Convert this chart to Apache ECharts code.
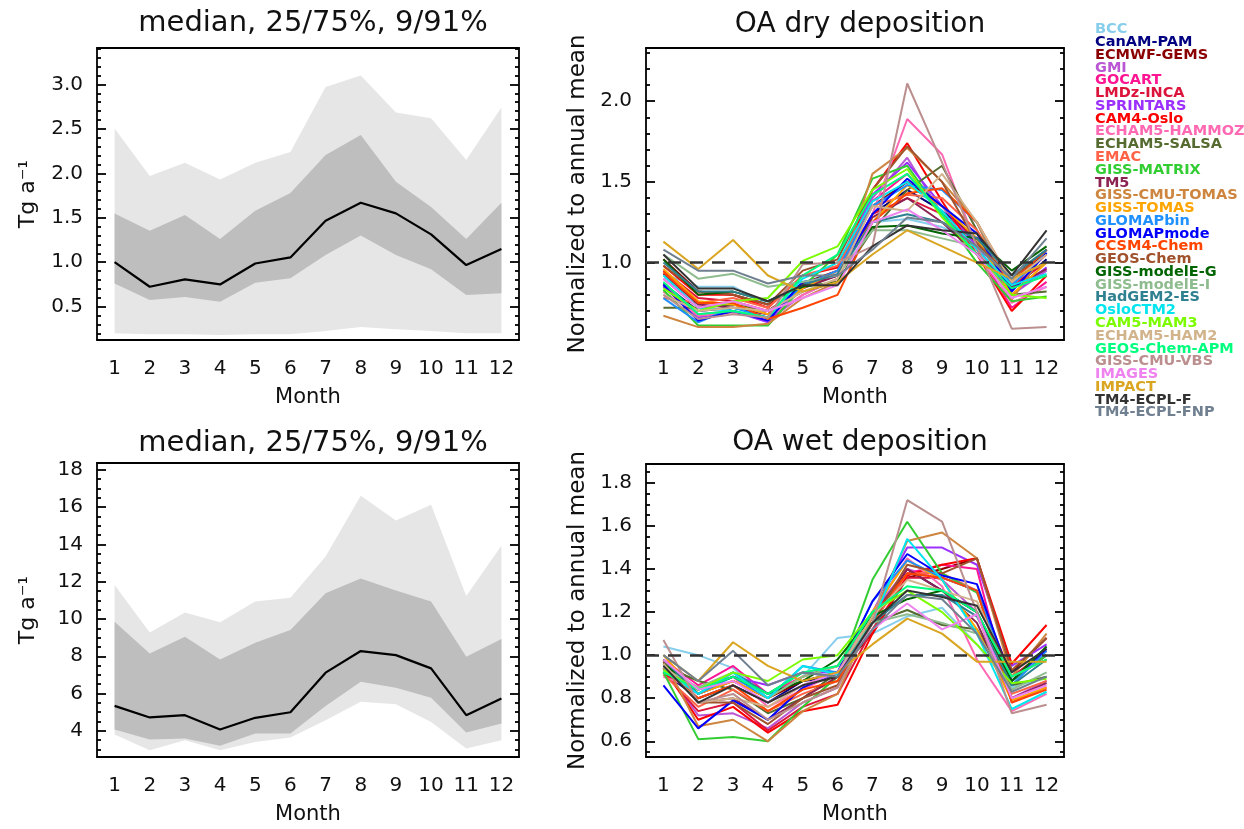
<!DOCTYPE html>
<html><head><meta charset="utf-8">
<script src="https://cdn.jsdelivr.net/npm/echarts@6/dist/echarts.min.js"></script>
<style>html,body{margin:0;padding:0;background:#fff}#c{width:1244px;height:829px}</style>
</head><body><div id="c"></div>
<script>
// ---------- categories ----------
const months = ['1','2','3','4','5','6','7','8','9','10','11','12'];
const models = ['BCC','CanAM-PAM','ECMWF-GEMS','GMI','GOCART','LMDz-INCA','SPRINTARS','CAM4-Oslo',
  'ECHAM5-HAMMOZ','ECHAM5-SALSA','EMAC','GISS-MATRIX','TM5','GISS-CMU-TOMAS','GISS-TOMAS','GLOMAPbin',
  'GLOMAPmode','CCSM4-Chem','GEOS-Chem','GISS-modelE-G','GISS-modelE-I','HadGEM2-ES','OsloCTM2',
  'CAM5-MAM3','ECHAM5-HAM2','GEOS-Chem-APM','GISS-CMU-VBS','IMAGES','IMPACT','TM4-ECPL-F','TM4-ECPL-FNP'];
const modelColors = ['#87CEEB','#000080','#8B0000','#BA55D3','#FF1493','#DC143C','#9B30FF','#FF0000',
  '#FF69B4','#556B2F','#FF6347','#32CD32','#8B2252','#CD853F','#FFA500','#1E90FF',
  '#0000FF','#FF4500','#A0522D','#006400','#8FBC8F','#2F8090','#00E5EE',
  '#7CFC00','#D2B48C','#00FF7F','#BC8F8F','#EE82EE','#DAA520','#333333','#708090'];

// ---------- dry deposition, Tg a-1 (percentiles) ----------
const dryP9   = [0.20,0.19,0.19,0.18,0.19,0.19,0.225,0.27,0.245,0.225,0.20,0.20];
const dryP25  = [0.76,0.574,0.61,0.555,0.77,0.82,1.08,1.30,1.08,0.92,0.63,0.65];
const dryMed  = [1.00,0.724,0.807,0.75,0.986,1.054,1.466,1.669,1.549,1.313,0.968,1.148];
const dryP75  = [1.549,1.354,1.53,1.26,1.58,1.78,2.205,2.43,1.905,1.62,1.26,1.67];
const dryP91  = [2.505,1.97,2.12,1.93,2.12,2.24,2.97,3.10,2.685,2.62,2.15,2.74];
// ---------- wet deposition, Tg a-1 (percentiles) ----------
const wetP9   = [3.80,2.96,3.50,2.96,3.41,3.64,4.57,5.56,5.43,4.48,3.05,3.50];
const wetP25  = [4.07,3.54,3.59,3.20,3.86,3.86,5.34,6.63,6.31,5.77,3.91,4.39];
const wetMed  = [5.34,4.72,4.84,4.07,4.70,5.00,7.12,8.28,8.06,7.35,4.84,5.74];
const wetP75  = [9.85,8.15,9.05,7.83,8.73,9.41,11.38,12.17,11.52,10.93,7.97,8.92];
const wetP91  = [11.82,9.28,10.34,9.82,10.93,11.14,13.35,16.60,15.28,16.12,11.23,13.92];

// ---------- dry deposition normalized to annual mean ----------
const dryBCC          = [0.93,0.85,0.85,0.74,0.86,0.92,1.25,1.27,1.22,1.12,0.84,0.95];
const dryCanAMPAM     = [0.87,0.70,0.72,0.68,0.86,0.92,1.30,1.45,1.32,1.15,0.83,1.02];
const dryECMWFGEMS    = [1.02,0.82,0.80,0.74,0.87,0.95,1.35,1.50,1.35,1.12,0.85,1.08];
const dryGMI          = [0.86,0.68,0.70,0.64,0.80,0.90,1.40,1.65,1.30,1.05,0.80,0.95];
const dryGOCART       = [0.90,0.72,0.74,0.68,0.84,0.95,1.38,1.55,1.30,1.08,0.72,0.88];
const dryLMDzINCA     = [0.95,0.78,0.76,0.70,0.85,0.92,1.30,1.40,1.30,1.15,0.86,1.00];
const drySPRINTARS    = [0.85,0.66,0.70,0.63,0.85,0.95,1.42,1.62,1.35,1.10,0.80,0.97];
const dryCAM4Oslo     = [0.98,0.80,0.80,0.72,0.92,0.97,1.45,1.74,1.38,1.05,0.70,0.92];
const dryECHAM5HAMMOZ = [0.82,0.67,0.69,0.66,0.80,0.90,1.30,1.89,1.67,1.10,0.75,0.85];
const dryECHAM5SALSA  = [0.72,0.72,0.74,0.70,0.82,0.88,1.20,1.45,1.60,1.20,0.80,0.82];
const dryEMAC         = [0.78,0.75,0.78,0.72,0.92,0.98,1.35,1.42,1.40,1.20,0.86,1.05];
const dryGISSMATRIX   = [0.83,0.61,0.61,0.61,0.85,1.05,1.52,1.60,1.30,1.00,0.76,0.79];
const dryTM5          = [0.93,0.74,0.72,0.70,0.84,0.92,1.28,1.40,1.25,1.05,0.85,0.96];
const dryGISSCMUTOMAS = [0.67,0.60,0.60,0.62,0.78,0.88,1.55,1.71,1.50,1.25,0.77,1.08];
const dryGISSTOMAS    = [0.96,0.76,0.74,0.68,0.84,0.95,1.25,1.48,1.35,1.15,0.80,1.00];
const dryGLOMAPbin    = [0.78,0.63,0.72,0.66,0.86,0.95,1.35,1.48,1.45,1.25,0.86,1.06];
const dryGLOMAPmode   = [0.86,0.64,0.70,0.64,0.88,0.92,1.30,1.52,1.35,1.18,0.82,1.06];
const dryCCSM4Chem    = [0.94,0.75,0.75,0.65,0.72,0.80,1.25,1.43,1.46,1.25,0.88,1.08];
const dryGEOSChem     = [0.98,0.82,0.80,0.74,0.95,1.02,1.45,1.72,1.50,1.12,0.90,1.08];
const dryGISSmodelEG  = [1.02,0.80,0.82,0.76,0.85,0.88,1.22,1.23,1.18,1.15,0.95,1.10];
const dryGISSmodelEI  = [1.05,0.90,0.93,0.85,0.88,0.92,1.20,1.20,1.15,1.10,0.90,1.00];
const dryHadGEM2ES    = [1.00,0.82,0.82,0.76,0.86,0.93,1.25,1.30,1.25,1.15,0.92,1.08];
const dryOsloCTM2     = [0.92,0.72,0.70,0.66,0.90,1.00,1.38,1.50,1.32,1.08,0.86,0.93];
const dryCAM5MAM3     = [0.84,0.70,0.76,0.78,1.01,1.10,1.45,1.58,1.28,1.05,0.80,0.78];
const dryECHAM5HAM2   = [0.80,0.70,0.72,0.70,0.82,0.90,1.35,1.32,1.55,1.25,0.88,1.05];
const dryGEOSChemAPM  = [0.88,0.68,0.70,0.66,0.92,1.05,1.42,1.55,1.30,1.05,0.84,0.92];
const dryGISSCMUVBS   = [0.80,0.65,0.68,0.66,0.99,1.00,1.10,2.11,1.62,1.10,0.59,0.60];
const dryIMAGES       = [0.90,0.72,0.76,0.70,0.78,0.86,1.25,1.33,1.20,1.05,0.78,0.85];
const dryIMPACT       = [1.13,0.96,1.14,0.92,0.82,0.88,1.05,1.20,1.10,1.00,0.90,1.00];
const dryTM4ECPLF     = [1.05,0.84,0.84,0.76,0.86,0.86,1.10,1.23,1.20,1.18,0.92,1.20];
const dryTM4ECPLFNP   = [1.08,0.95,0.95,0.87,0.92,0.92,1.08,1.28,1.25,1.10,0.90,1.15];

// ---------- wet deposition normalized to annual mean ----------
const wetBCC          = [1.04,1.00,0.94,0.80,0.90,1.08,1.10,1.18,1.22,1.05,0.85,0.90];
const wetCanAMPAM     = [0.92,0.80,0.86,0.78,0.88,0.90,1.15,1.40,1.30,1.20,0.88,1.00];
const wetECMWFGEMS    = [0.96,0.82,0.88,0.80,0.88,0.92,1.10,1.36,1.40,1.45,0.92,1.08];
const wetGMI          = [0.94,0.72,0.73,0.66,0.78,0.85,1.20,1.40,1.35,1.20,0.80,0.88];
const wetGOCART       = [0.98,0.86,0.95,0.82,0.90,0.95,1.15,1.38,1.42,1.40,0.78,0.85];
const wetLMDzINCA     = [0.92,0.74,0.78,0.65,0.76,0.82,1.12,1.36,1.36,1.30,0.90,1.02];
const wetSPRINTARS    = [0.95,0.84,0.90,0.86,0.92,0.92,1.20,1.50,1.50,1.42,0.95,1.05];
const wetCAM4Oslo     = [0.94,0.70,0.76,0.64,0.74,0.77,1.10,1.37,1.42,1.45,0.96,1.14];
const wetECHAM5HAMMOZ = [0.90,0.84,0.90,0.76,0.84,0.92,1.20,1.45,1.32,0.98,0.74,0.82];
const wetECHAM5SALSA  = [0.95,0.88,0.84,0.73,0.80,0.92,1.15,1.21,1.14,1.12,0.86,0.90];
const wetEMAC         = [0.91,0.76,0.84,0.74,0.82,0.88,1.15,1.38,1.38,1.30,0.82,0.88];
const wetGISSMATRIX   = [0.92,0.61,0.62,0.60,0.76,0.90,1.35,1.62,1.38,1.29,0.88,1.00];
const wetTM5          = [0.97,0.78,0.80,0.70,0.80,0.90,1.18,1.40,1.30,1.15,0.80,0.87];
const wetGISSCMUTOMAS = [0.98,0.67,0.70,0.60,0.74,0.82,1.18,1.53,1.57,1.45,0.90,1.10];
const wetGISSTOMAS    = [1.00,0.82,0.88,0.80,0.90,0.95,1.20,1.44,1.35,1.12,0.79,0.85];
const wetGLOMAPbin    = [0.93,0.82,0.90,0.80,0.95,0.92,1.25,1.44,1.36,1.30,0.86,1.02];
const wetGLOMAPmode   = [0.86,0.66,0.79,0.70,0.85,0.92,1.25,1.47,1.37,1.33,0.88,1.03];
const wetCCSM4Chem    = [0.94,0.80,0.86,0.74,0.84,0.88,1.18,1.38,1.36,1.30,0.78,0.84];
const wetGEOSChem     = [0.97,0.78,0.78,0.68,0.80,0.86,1.15,1.42,1.38,1.45,0.93,1.08];
const wetGISSmodelEG  = [0.96,0.84,0.90,0.82,0.88,0.98,1.18,1.26,1.30,1.20,0.88,1.04];
const wetGISSmodelEI  = [0.94,0.85,0.92,0.80,0.90,0.95,1.15,1.19,1.15,1.10,0.84,0.92];
const wetHadGEM2ES    = [0.98,0.82,0.92,0.82,0.92,0.90,1.15,1.28,1.28,1.18,0.86,0.98];
const wetOsloCTM2     = [0.93,0.82,0.92,0.80,0.95,0.91,1.15,1.54,1.35,1.10,0.75,0.83];
const wetCAM5MAM3     = [0.93,0.84,0.92,0.88,0.98,1.00,1.20,1.30,1.20,1.05,0.87,0.89];
const wetECHAM5HAM2   = [0.96,0.78,0.80,0.76,0.86,0.92,1.18,1.35,1.30,1.25,0.90,0.98];
const wetGEOSChemAPM  = [0.92,0.84,0.90,0.82,0.92,0.95,1.20,1.32,1.30,1.20,0.90,0.98];
const wetGISSCMUVBS   = [1.07,0.78,0.82,0.70,0.78,0.85,1.15,1.72,1.62,1.20,0.73,0.77];
const wetIMAGES       = [0.98,0.84,0.88,0.78,0.86,0.92,1.12,1.24,1.12,1.19,0.80,0.86];
const wetIMPACT       = [1.00,0.88,1.06,0.95,0.88,0.92,1.05,1.17,1.10,0.97,0.97,0.97];
const wetTM4ECPLF     = [0.95,0.78,0.86,0.78,0.86,0.90,1.15,1.30,1.27,1.23,0.92,1.03];
const wetTM4ECPLFNP   = [1.00,0.88,1.02,0.86,0.92,0.90,1.12,1.28,1.26,1.10,0.83,0.90];

// ---------- tick labels ----------
const dryTgTicks  = [0.5,1.0,1.5,2.0,2.5,3.0];
const wetTgTicks  = [4,6,8,10,12,14,16,18];
const dryNormTicks = [1.0,1.5,2.0];
const wetNormTicks = [0.6,0.8,1.0,1.2,1.4,1.6,1.8];

const dryNorm = [dryBCC,dryCanAMPAM,dryECMWFGEMS,dryGMI,dryGOCART,dryLMDzINCA,drySPRINTARS,dryCAM4Oslo,
  dryECHAM5HAMMOZ,dryECHAM5SALSA,dryEMAC,dryGISSMATRIX,dryTM5,dryGISSCMUTOMAS,dryGISSTOMAS,dryGLOMAPbin,
  dryGLOMAPmode,dryCCSM4Chem,dryGEOSChem,dryGISSmodelEG,dryGISSmodelEI,dryHadGEM2ES,dryOsloCTM2,
  dryCAM5MAM3,dryECHAM5HAM2,dryGEOSChemAPM,dryGISSCMUVBS,dryIMAGES,dryIMPACT,dryTM4ECPLF,dryTM4ECPLFNP];
const wetNorm = [wetBCC,wetCanAMPAM,wetECMWFGEMS,wetGMI,wetGOCART,wetLMDzINCA,wetSPRINTARS,wetCAM4Oslo,
  wetECHAM5HAMMOZ,wetECHAM5SALSA,wetEMAC,wetGISSMATRIX,wetTM5,wetGISSCMUTOMAS,wetGISSTOMAS,wetGLOMAPbin,
  wetGLOMAPmode,wetCCSM4Chem,wetGEOSChem,wetGISSmodelEG,wetGISSmodelEI,wetHadGEM2ES,wetOsloCTM2,
  wetCAM5MAM3,wetECHAM5HAM2,wetGEOSChemAPM,wetGISSCMUVBS,wetIMAGES,wetIMPACT,wetTM4ECPLF,wetTM4ECPLFNP];

function minorList(lo, hi, step, majors){
  const out = [];
  const n = Math.round((hi - lo) / step);
  for (let i = 0; i <= n; i++) {
    const v = Math.round((lo + i * step) * 1000) / 1000;
    if (!majors.some(m => Math.abs(m - v) < 1e-6)) out.push(v);
  }
  return out;
}

const FONT = 'DejaVu Sans';
const INK = '#111';
const grids = [
  {left: 97,  top: 48,  width: 422, height: 292, outerBoundsMode: 'none'},
  {left: 646, top: 48,  width: 418, height: 292, outerBoundsMode: 'none'},
  {left: 97,  top: 463, width: 422, height: 294, outerBoundsMode: 'none'},
  {left: 646, top: 464, width: 418, height: 293, outerBoundsMode: 'none'}
];
const panels = [
  {min: 0.125, max: 3.41, majors: dryTgTicks, minors: minorList(0.2, 3.4, 0.1, dryTgTicks), fmt: v => v.toFixed(1), name: 'Tg a\u207B\u00B9', gap: 58, nfs: 22},
  {min: 0.52, max: 2.33, majors: dryNormTicks, minors: minorList(0.6, 2.3, 0.1, dryNormTicks), fmt: v => v.toFixed(1), name: 'Normalized to annual mean', gap: 56, nfs: 23},
  {min: 2.6, max: 18.36, majors: wetTgTicks, minors: minorList(3.0, 18.0, 0.5, wetTgTicks), fmt: v => String(v), name: 'Tg a\u207B\u00B9', gap: 58, nfs: 22},
  {min: 0.527, max: 1.888, majors: wetNormTicks, minors: minorList(0.55, 1.85, 0.05, wetNormTicks), fmt: v => v.toFixed(1), name: 'Normalized to annual mean', gap: 56, nfs: 23}
];

const xAxes = [], yAxes = [];
const lineBlack = {color: '#000', width: 1.8};
panels.forEach((p, g) => {
  xAxes.push({
    type: 'category', gridIndex: g, data: months, boundaryGap: true, position: 'bottom',
    axisLine: {lineStyle: lineBlack},
    axisTick: {inside: true, length: 8, alignWithLabel: true, interval: 0, lineStyle: lineBlack},
    axisLabel: {interval: 0, margin: 19, color: INK, fontSize: 20, fontFamily: FONT},
    splitLine: {show: false},
    name: 'Month', nameLocation: 'middle', nameGap: 47,
    nameTextStyle: {fontSize: 21, color: INK, fontFamily: FONT}
  });
  xAxes.push({
    type: 'category', gridIndex: g, data: months, boundaryGap: true, position: 'top',
    axisLine: {lineStyle: lineBlack},
    axisTick: {inside: true, length: 8, alignWithLabel: true, interval: 0, lineStyle: lineBlack},
    axisLabel: {show: false}, splitLine: {show: false}
  });
  yAxes.push({
    type: 'value', gridIndex: g, min: p.min, max: p.max, position: 'left',
    axisLine: {show: true, lineStyle: lineBlack},
    axisTick: {show: true, inside: true, length: 9, customValues: p.majors, lineStyle: lineBlack},
    axisLabel: {customValues: p.majors, formatter: p.fmt, margin: 14, color: INK, fontSize: 20, fontFamily: FONT},
    splitLine: {show: false},
    name: p.name, nameLocation: 'middle', nameRotate: 90, nameGap: p.gap,
    nameTextStyle: {fontSize: p.nfs, color: INK, fontFamily: FONT}
  });
  yAxes.push({
    type: 'value', gridIndex: g, min: p.min, max: p.max, position: 'left',
    axisLine: {show: false},
    axisTick: {show: true, inside: true, length: 4, customValues: p.minors, lineStyle: lineBlack},
    axisLabel: {show: false}, splitLine: {show: false}
  });
  yAxes.push({
    type: 'value', gridIndex: g, min: p.min, max: p.max, position: 'right',
    axisLine: {show: true, lineStyle: lineBlack},
    axisTick: {show: true, inside: true, length: 9, customValues: p.majors, lineStyle: lineBlack},
    axisLabel: {show: false}, splitLine: {show: false}
  });
  yAxes.push({
    type: 'value', gridIndex: g, min: p.min, max: p.max, position: 'right',
    axisLine: {show: false},
    axisTick: {show: true, inside: true, length: 4, customValues: p.minors, lineStyle: lineBlack},
    axisLabel: {show: false}, splitLine: {show: false}
  });
});

const series = [];
function diff(a, b){ return a.map((v, i) => +(v - b[i]).toFixed(4)); }
function bandSeries(g, p9, p25, med, p75, p91){
  const base = {type: 'line', xAxisIndex: 2 * g, yAxisIndex: 4 * g, symbol: 'none', silent: true, animation: false};
  series.push(Object.assign({}, base, {name: 'p9_' + g, stack: 'outer' + g, data: p9, lineStyle: {width: 0, opacity: 0}}));
  series.push(Object.assign({}, base, {name: 'p91_' + g, stack: 'outer' + g, data: diff(p91, p9), lineStyle: {width: 0, opacity: 0}, areaStyle: {color: '#E6E6E6', opacity: 1}}));
  series.push(Object.assign({}, base, {name: 'p25_' + g, stack: 'inner' + g, data: p25, lineStyle: {width: 0, opacity: 0}}));
  series.push(Object.assign({}, base, {name: 'p75_' + g, stack: 'inner' + g, data: diff(p75, p25), lineStyle: {width: 0, opacity: 0}, areaStyle: {color: '#BEBEBE', opacity: 1}}));
  series.push(Object.assign({}, base, {name: 'median_' + g, data: med, lineStyle: {width: 2.2, color: '#000'}, itemStyle: {color: '#000'}}));
}
bandSeries(0, dryP9, dryP25, dryMed, dryP75, dryP91);
bandSeries(2, wetP9, wetP25, wetMed, wetP75, wetP91);

function modelSeries(g, arrs){
  arrs.forEach((d, i) => {
    const s = {
      type: 'line', name: models[i], xAxisIndex: 2 * g, yAxisIndex: 4 * g, data: d,
      symbol: 'none', silent: true, animation: false,
      lineStyle: {width: 2, color: modelColors[i]}, itemStyle: {color: modelColors[i]}
    };
    if (i === 0) {
      s.markLine = {silent: true, symbol: ['none', 'none'], label: {show: false},
        lineStyle: {type: [13, 9], color: '#333', width: 2.5}, data: [{yAxis: 1}], animation: false};
    }
    series.push(s);
  });
}
modelSeries(1, dryNorm);
modelSeries(3, wetNorm);

const titleStyle = {fontSize: 28, fontWeight: 'normal', fontFamily: FONT, color: INK};
const option = {
  backgroundColor: '#fff',
  animation: false,
  title: [
    {text: 'median, 25/75%, 9/91%', left: 308, top: 4, textAlign: 'center', textStyle: Object.assign({}, titleStyle, {fontSize: 29})},
    {text: 'OA dry deposition', left: 855, top: 6, textAlign: 'center', textStyle: titleStyle},
    {text: 'median, 25/75%, 9/91%', left: 308, top: 424, textAlign: 'center', textStyle: Object.assign({}, titleStyle, {fontSize: 29})},
    {text: 'OA wet deposition', left: 855, top: 424, textAlign: 'center', textStyle: titleStyle}
  ],
  legend: {
    orient: 'vertical', left: 1089, top: 22, itemGap: -2.23, itemWidth: 0, itemHeight: 0,
    selectedMode: false, padding: 0,
    data: models.map((m, i) => ({name: m, textStyle: {color: modelColors[i]}})),
    textStyle: {fontFamily: FONT, fontWeight: 'bold', fontSize: 14.5, lineHeight: 12.77, padding: 0}
  },
  grid: grids,
  xAxis: xAxes,
  yAxis: yAxes,
  series: series
};
const chart = echarts.init(document.getElementById('c'), null, {renderer: 'canvas'});
chart.setOption(option);
</script>
</body></html>
